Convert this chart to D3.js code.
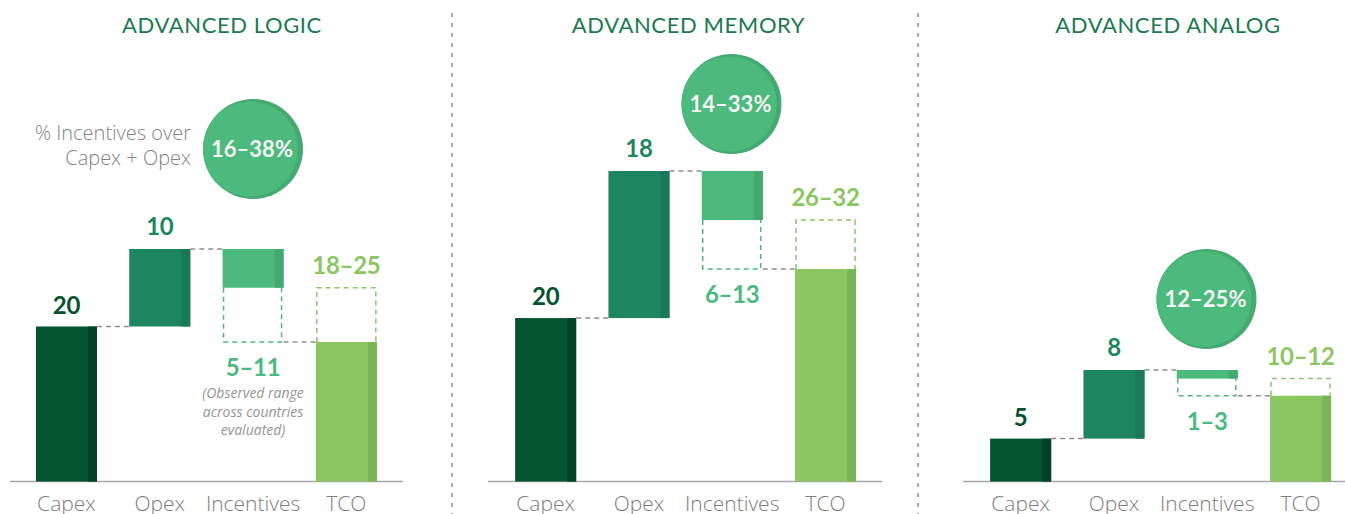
<!DOCTYPE html>
<html>
<head>
<meta charset="utf-8">
<script src="https://cdn.jsdelivr.net/npm/d3@7/dist/d3.min.js"></script>
<style>
  body { margin: 0; background: #fff; }
  svg { display: block; }
</style>
</head>
<body>
<div id="chart"></div>
<script>
// chart values
const panels = ['ADVANCED LOGIC', 'ADVANCED MEMORY', 'ADVANCED ANALOG']
const categories = ['Capex', 'Opex', 'Incentives', 'TCO']
const capex = [20, 20, 5]
const opex = [10, 18, 8]
const incLow = [5, 6, 1]
const incHigh = [11, 13, 3]
const tcoLow = [18, 26, 10]
const tcoHigh = [25, 32, 12]
const shareLabels = ['16–38%', '14–33%', '12–25%']

const width = 1345
const height = 514
const baseY = 481.5

// layout of each panel
const layout = [
  { x0: 19.8, axis: [10, 403], top: 249, titleX: 222, cx: 253, cy: 149, cap: true, note: true },
  { x0: 499, axis: [488, 882], top: 171, titleX: 688.5, cx: 731.5, cy: 104 },
  { x0: 974, axis: [963, 1345], top: 370, titleX: 1168, cx: 1206.5, cy: 299 },
]
const step = 93.3
const dividers = [452, 918]

const colors = {
  capex: '#05532f', capexDark: '#034325',
  opex: '#1e8561', opexDark: '#1a7a58',
  inc: '#4bba7c', incDark: '#44a96f',
  tco: '#8bc663', tcoDark: '#7db457',
  title: '#1b7a51', grey: '#7d7d7d', line: '#a8a8a8', dash: '#8e8e8e'
}

const svg = d3.select('#chart').append('svg').attr('width', width).attr('height', height)

dividers.forEach(x => {
  svg.append('line')
    .attr('x1', x).attr('x2', x).attr('y1', 13).attr('y2', height)
    .attr('stroke', colors.dash).attr('stroke-width', 1.5).attr('stroke-dasharray', '4,6')
})

function bar(g, x, y0, y1, w, fill, dark) {
  g.append('rect').attr('x', x).attr('y', y0).attr('width', w).attr('height', y1 - y0).attr('fill', fill)
  g.append('rect').attr('x', x + w - 9).attr('y', y0).attr('width', 9).attr('height', y1 - y0).attr('fill', dark)
}

function dashed(g, pts, color) {
  g.append('path')
    .attr('d', d3.line()(pts))
    .attr('fill', 'none').attr('stroke', color).attr('stroke-width', 1.5).attr('stroke-dasharray', '5,4')
}

function numLabel(g, x, y, text, color) {
  g.append('text')
    .attr('x', x).attr('y', y).attr('text-anchor', 'middle')
    .attr('font-family', 'Lato, sans-serif').attr('font-weight', 'bold').attr('font-size', 24)
    .attr('letter-spacing', -0.3)
    .attr('fill', color).text(text)
}

panels.forEach((title, i) => {
  const L = layout[i]
  const g = svg.append('g').attr('class', 'panel')
  const total = capex[i] + opex[i]

  const x = d3.scaleBand().domain(categories)
    .range([L.x0, L.x0 + step * categories.length])
    .paddingInner(0.346).paddingOuter(0.173)
  const y = d3.scaleLinear().domain([0, total]).range([baseY, L.top])
  const bw = x.bandwidth()
  const mid = c => x(c) + bw / 2

  // title
  g.append('text')
    .attr('x', L.titleX)
    .attr('y', 33).attr('text-anchor', 'middle')
    .attr('font-family', 'Lato, sans-serif').attr('font-size', 22).attr('letter-spacing', 0.6)
    .attr('fill', colors.title).text(title)

  // baseline
  g.append('line')
    .attr('x1', L.axis[0]).attr('x2', L.axis[1]).attr('y1', baseY).attr('y2', baseY)
    .attr('stroke', colors.line).attr('stroke-width', 1.5)

  // capex
  bar(g, x('Capex'), y(capex[i]), baseY, bw, colors.capex, colors.capexDark)
  numLabel(g, mid('Capex'), y(capex[i]) - 13, capex[i], colors.capex)

  // opex
  bar(g, x('Opex'), y(total), y(capex[i]), bw, colors.opex, colors.opexDark)
  numLabel(g, mid('Opex'), y(total) - 14, opex[i], colors.opex)

  // incentives: solid part down to best-case TCO, dashed part down to worst-case TCO
  bar(g, x('Incentives'), y(total), y(tcoHigh[i]), bw, colors.inc, colors.incDark)
  dashed(g, [[x('Incentives') + 1, y(tcoHigh[i])], [x('Incentives') + 1, y(tcoLow[i])],
    [x('Incentives') + bw - 2, y(tcoLow[i])], [x('Incentives') + bw - 2, y(tcoHigh[i])]], colors.inc)
  numLabel(g, mid('Incentives'), y(tcoLow[i]) + 34, `${incLow[i]}–${incHigh[i]}`, colors.inc)

  // tco
  bar(g, x('TCO'), y(tcoLow[i]), baseY, bw, colors.tco, colors.tcoDark)
  dashed(g, [[x('TCO') + 1, y(tcoLow[i])], [x('TCO') + 1, y(tcoHigh[i])],
    [x('TCO') + bw - 1, y(tcoHigh[i])], [x('TCO') + bw - 1, y(tcoLow[i])]], colors.tco)
  numLabel(g, mid('TCO'), y(tcoHigh[i]) - 14, `${tcoLow[i]}–${tcoHigh[i]}`, colors.tco)

  // connectors
  dashed(g, [[x('Capex') + bw, y(capex[i])], [x('Opex'), y(capex[i])]], colors.dash)
  dashed(g, [[x('Opex') + bw, y(total)], [x('Incentives'), y(total)]], colors.dash)
  dashed(g, [[x('Incentives') + bw, y(tcoLow[i])], [x('TCO'), y(tcoLow[i])]], colors.dash)

  // category labels
  g.selectAll('.cat').data(categories).enter().append('text')
    .attr('class', 'cat')
    .attr('x', d => mid(d)).attr('y', baseY + 29).attr('text-anchor', 'middle')
    .attr('font-family', '"Open Sans", sans-serif').attr('font-weight', 300).attr('font-size', 21)
    .attr('fill', colors.grey).text(d => d)

  // share bubble
  g.append('circle').attr('cx', L.cx).attr('cy', L.cy).attr('r', 50).attr('fill', '#45a972')
  g.append('circle').attr('cx', L.cx - 2.5).attr('cy', L.cy).attr('r', 47.5).attr('fill', colors.inc)
  g.append('text')
    .attr('x', L.cx - 1).attr('y', L.cy + 8).attr('text-anchor', 'middle')
    .attr('font-family', 'Lato, sans-serif').attr('font-weight', 'bold').attr('font-size', 22)
    .attr('fill', '#f4f4f4').text(shareLabels[i])

  if (L.cap) {
    const t = g.append('text').attr('text-anchor', 'end')
      .attr('font-family', '"Open Sans", sans-serif').attr('font-weight', 300).attr('font-size', 20)
      .attr('fill', '#838383')
    t.append('tspan').attr('x', 191).attr('y', 140).text('% Incentives over')
    t.append('tspan').attr('x', 191).attr('y', 165).text('Capex + Opex')
  }

  if (L.note) {
    const n = g.append('text').attr('text-anchor', 'middle')
      .attr('font-family', '"Open Sans", sans-serif').attr('font-style', 'italic').attr('font-size', 14)
      .attr('fill', '#959595')
    const lines = ['(Observed range', 'across countries', 'evaluated)']
    lines.forEach((s, k) => n.append('tspan').attr('x', mid('Incentives')).attr('y', 398 + k * 18.5).text(s))
  }
})
</script>
</body>
</html>
